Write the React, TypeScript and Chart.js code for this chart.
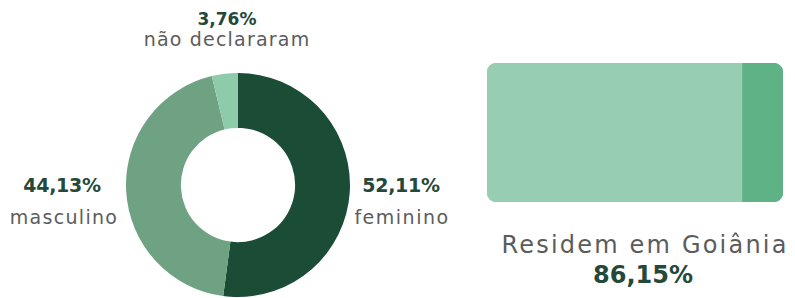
import React, { useEffect, useRef } from "react";
import { Chart, registerables } from "chart.js";
Chart.register(...registerables);

const genderLabels = ["feminino", "masculino", "não declararam"];
const genderValues = [52.11, 44.13, 3.76];
const genderColors = ["#1b4d36", "#6fa282", "#8dcbaa"];

const residLabels = ["Residem em Goiânia", "Outros"];
const residValues = [86.15, 13.85];
const residColors = ["#97cdb0", "#5fb286"];

const fmt = (v: number) => v.toFixed(2).replace(".", ",") + "%";

const FONT = "'DejaVu Sans', sans-serif";
const DARK = "#24483a";
const GRAY = "#5c5c5c";

function Label({ x, y, size, bold, color, spacing, children }: any) {
  return (
    <div
      style={{
        position: "absolute",
        left: x,
        top: y,
        transform: "translate(-50%, -50%)",
        fontFamily: FONT,
        fontSize: size,
        fontWeight: bold ? 700 : 400,
        letterSpacing: spacing || 0,
        color,
        whiteSpace: "nowrap",
        lineHeight: 1,
      }}
    >
      {children}
    </div>
  );
}

export default function App() {
  const donutRef = useRef<HTMLCanvasElement>(null);
  const barRef = useRef<HTMLCanvasElement>(null);

  useEffect(() => {
    document.body.style.margin = "0";
    const d = new Chart(donutRef.current!, {
      type: "doughnut",
      data: {
        labels: genderLabels,
        datasets: [
          {
            data: genderValues,
            backgroundColor: genderColors,
            borderWidth: 0,
          },
        ],
      },
      options: {
        responsive: false,
        animation: false,
        cutout: "51%",
        plugins: { legend: { display: false }, tooltip: { enabled: false } },
        layout: { padding: 0 },
      },
    });
    const R = 10;
    const n = residValues.length;
    let acc = 0;
    const datasets = residValues.map((v, i) => {
      const start = acc;
      acc += v;
      return {
        label: residLabels[i],
        data: [[start, acc]],
        backgroundColor: residColors[i],
        borderWidth: 0,
        borderRadius: {
          topLeft: i === 0 ? R : 0,
          bottomLeft: i === 0 ? R : 0,
          topRight: i === n - 1 ? R : 0,
          bottomRight: i === n - 1 ? R : 0,
        },
        borderSkipped: false,
        barPercentage: 1,
        categoryPercentage: 1,
        grouped: false,
      };
    });
    const b = new Chart(barRef.current!, {
      type: "bar",
      data: { labels: [""], datasets: datasets as any },
      options: {
        responsive: false,
        animation: false,
        indexAxis: "y",
        plugins: { legend: { display: false }, tooltip: { enabled: false } },
        layout: { padding: 0 },
        scales: {
          x: { display: false, min: 0, max: 100 },
          y: { display: false },
        },
      },
    });
    return () => {
      d.destroy();
      b.destroy();
    };
  }, []);

  return (
    <div style={{ position: "relative", width: 795, height: 298, background: "#fff", overflow: "hidden" }}>
      <canvas
        ref={donutRef}
        width={224}
        height={224}
        style={{ position: "absolute", left: 126, top: 73, width: 224, height: 224 }}
      />
      <canvas
        ref={barRef}
        width={296}
        height={139}
        style={{ position: "absolute", left: 487, top: 63, width: 296, height: 139 }}
      />
      <Label x={227} y={19} size={17} bold color={DARK}>{fmt(genderValues[2])}</Label>
      <Label x={227} y={39} size={19} spacing={1.2} color={GRAY}>{genderLabels[2]}</Label>
      <Label x={62} y={185} size={19} spacing={-0.3} bold color={DARK}>{fmt(genderValues[1])}</Label>
      <Label x={64} y={217} size={19} spacing={1.3} color={GRAY}>{genderLabels[1]}</Label>
      <Label x={401} y={185} size={19} spacing={-0.3} bold color={DARK}>{fmt(genderValues[0])}</Label>
      <Label x={402} y={217} size={19} spacing={1.5} color={GRAY}>{genderLabels[0]}</Label>
      <Label x={645} y={245} size={24} spacing={2.2} color={GRAY}>{residLabels[0]}</Label>
      <Label x={643} y={275} size={24} bold color={DARK}>{fmt(residValues[0])}</Label>
    </div>
  );
}
